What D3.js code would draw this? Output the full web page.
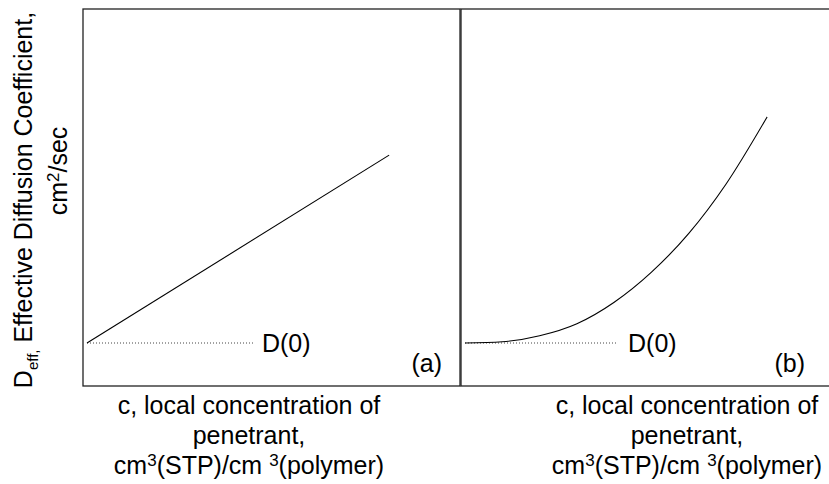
<!DOCTYPE html>
<meta charset="utf-8">
<style>
  body { margin: 0; background: #fff; }
  svg { display: block; }
  text { font-family: "Liberation Sans", Arial, sans-serif; fill: #000; }
  .frame { fill: none; stroke: #222; stroke-width: 1.3; }
  .curve { fill: none; stroke: #000; stroke-width: 1.1; }
  .base { fill: none; stroke: #444; stroke-width: 1; stroke-dasharray: 1,2; }
</style>
<body>
<script src="https://d3js.org/d3.v7.min.js"></script>
<script>

// (a) linear dependence, (b) concentration-enhanced (convex) dependence
// c is in arbitrary units, D is relative to D(0)
var cLinear = [0, 0.81];
var dLinear = [1, 5.37];

var cCurve = [0, 0.1, 0.2, 0.3, 0.4, 0.5, 0.6, 0.7, 0.81];
var dCurve = [1, 1.03, 1.17, 1.45, 1.95, 2.65, 3.55, 4.70, 6.26];

var dZero = 1;
var cZeroEnd = [0.445, 0.405];   // where the dotted D(0) guide stops in each panel

var panelTags = ["(a)", "(b)"];
var xLabelLines = ["c, local concentration of", "penetrant,"];

var width = 829, height = 484;

var svg = d3.select("body").append("svg")
    .attr("width", width)
    .attr("height", height);

// shared vertical scale
var y = d3.scaleLinear().domain([0, 8.77]).range([386, 9]);

var panels = [
  { left: 83, right: 460, x0: 87, c: cLinear, d: dLinear, tagX: 442, labelX: 249, d0dx: 9 },
  { left: 461, right: 830, x0: 465, c: cCurve, d: dCurve, tagX: 805, labelX: 687, d0dx: 12 }
];

var line = d3.line()
    .x(function(p) { return p[0]; })
    .y(function(p) { return p[1]; })
    .curve(d3.curveMonotoneX);

panels.forEach(function(p, i) {
  var x = d3.scaleLinear().domain([0, 1]).range([p.x0, p.x0 + 373]);

  // box
  svg.append("rect")
      .attr("class", "frame")
      .attr("x", p.left)
      .attr("y", y(8.77))
      .attr("width", p.right - p.left)
      .attr("height", y(0) - y(8.77));

  // dotted D(0) guide
  svg.append("line")
      .attr("class", "base")
      .attr("x1", x(0))
      .attr("x2", x(cZeroEnd[i]))
      .attr("y1", y(dZero))
      .attr("y2", y(dZero));

  svg.append("text")
      .attr("x", x(cZeroEnd[i]) + p.d0dx)
      .attr("y", y(dZero) + 9)
      .style("font-size", "25px")
      .text("D(0)");

  // D vs c
  svg.append("path")
      .datum(p.c.map(function(c, k) { return [x(c), y(p.d[k])]; }))
      .attr("class", "curve")
      .attr("d", line);

  svg.append("text")
      .attr("x", p.tagX)
      .attr("y", 372)
      .attr("text-anchor", "end")
      .style("font-size", "25px")
      .text(panelTags[i]);

  // x label, three centred lines
  var lab = svg.append("g").attr("transform", "translate(" + p.labelX + ",0)");
  xLabelLines.forEach(function(s, k) {
    lab.append("text")
        .attr("y", 414 + k * 30)
        .attr("text-anchor", "middle")
        .style("font-size", "25px")
        .text(s);
  });
  var unit = lab.append("text")
      .attr("y", 474)
      .attr("text-anchor", "middle")
      .style("font-size", "25px");
  unit.append("tspan").text("cm");
  unit.append("tspan").attr("dy", -8).style("font-size", "17px").text("3");
  unit.append("tspan").attr("dy", 8).text("(STP)/cm ");
  unit.append("tspan").attr("dy", -8).style("font-size", "17px").text("3");
  unit.append("tspan").attr("dy", 8).text("(polymer)");
});

// y label, rotated
var yl1 = svg.append("text")
    .attr("transform", "translate(32,200) rotate(-90)")
    .attr("text-anchor", "middle")
    .style("font-size", "25px");
yl1.append("tspan").text("D");
yl1.append("tspan").attr("dy", 6).style("font-size", "15px").text("eff,");
yl1.append("tspan").attr("dy", -6).text(" Effective Diffusion Coefficient,");

var yl2 = svg.append("text")
    .attr("transform", "translate(67,171) rotate(-90)")
    .attr("text-anchor", "middle")
    .style("font-size", "25px");
yl2.append("tspan").text("cm");
yl2.append("tspan").attr("dy", -8).style("font-size", "17px").text("2");
yl2.append("tspan").attr("dy", 8).text("/sec");

</script>
</body>
</html>
